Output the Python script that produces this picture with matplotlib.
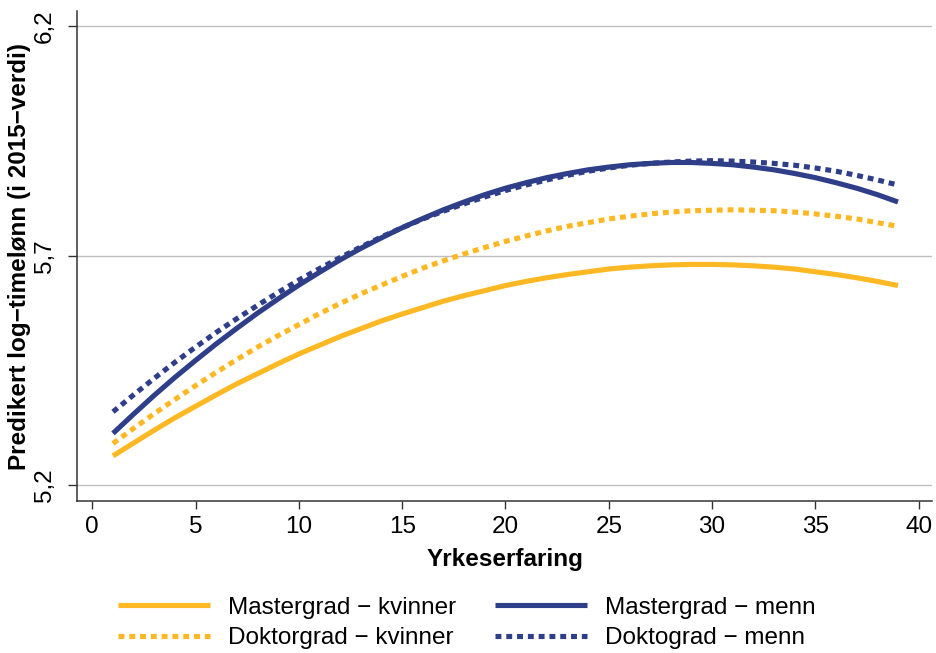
import numpy as np
import matplotlib
matplotlib.use('Agg')
import matplotlib.pyplot as plt

plt.rcParams['font.family'] = ['Liberation Sans', 'DejaVu Sans']

# Yrkeserfaring (years of experience)
erfaring = list(range(1, 40))

# predicted log hourly wage
master_kvinner = [5.264, 5.292, 5.320, 5.347, 5.372, 5.397, 5.421, 5.443, 5.465, 5.486,
                  5.505, 5.524, 5.541, 5.558, 5.573, 5.587, 5.601, 5.613, 5.624, 5.635,
                  5.644, 5.652, 5.659, 5.665, 5.671, 5.675, 5.678, 5.680, 5.681, 5.681,
                  5.680, 5.678, 5.675, 5.671, 5.665, 5.659, 5.652, 5.644, 5.635]
doktor_kvinner = [5.291, 5.324, 5.356, 5.387, 5.417, 5.446, 5.474, 5.501, 5.526, 5.550,
                  5.574, 5.596, 5.617, 5.636, 5.655, 5.673, 5.689, 5.704, 5.718, 5.731,
                  5.743, 5.754, 5.764, 5.772, 5.780, 5.786, 5.791, 5.795, 5.798, 5.799,
                  5.800, 5.799, 5.798, 5.795, 5.791, 5.786, 5.780, 5.772, 5.764]
master_menn = [5.313, 5.355, 5.396, 5.435, 5.472, 5.508, 5.542, 5.575, 5.606, 5.636,
               5.664, 5.691, 5.716, 5.739, 5.761, 5.781, 5.800, 5.817, 5.833, 5.847,
               5.859, 5.870, 5.879, 5.887, 5.893, 5.898, 5.901, 5.903, 5.903, 5.901,
               5.898, 5.893, 5.887, 5.879, 5.870, 5.859, 5.847, 5.833, 5.817]
doktor_menn = [5.360, 5.397, 5.433, 5.468, 5.501, 5.533, 5.563, 5.592, 5.620, 5.647,
               5.672, 5.696, 5.719, 5.741, 5.761, 5.780, 5.797, 5.813, 5.828, 5.842,
               5.854, 5.865, 5.875, 5.884, 5.891, 5.897, 5.901, 5.904, 5.906, 5.907,
               5.906, 5.904, 5.901, 5.897, 5.891, 5.884, 5.875, 5.865, 5.854]

labels = ['Mastergrad \u2212 kvinner', 'Doktorgrad \u2212 kvinner',
          'Mastergrad \u2212 menn', 'Doktograd \u2212 menn']
xticks = [0, 5, 10, 15, 20, 25, 30, 35, 40]
yticks = [5.2, 5.7, 6.2]
ytick_labels = ['5,2', '5,7', '6,2']

orange = '#FDB824'
navy = '#2E3E88'
fs = 17.5

fig = plt.figure(figsize=(9.36, 6.53), dpi=100)
ax = fig.add_axes([0.0826, 0.2328, 0.9134, 0.7502])

for y in yticks:
    ax.axhline(y, color='#BEBEBE', lw=1.0, zorder=0)

lw = 3.7
dots = (1.15, 0.95)
ax.plot(erfaring, master_kvinner, color=orange, lw=lw, solid_capstyle='butt',
        label=labels[0])
ax.plot(erfaring, doktor_kvinner, color=orange, lw=lw, dashes=dots,
        dash_capstyle='butt', label=labels[1])
ax.plot(erfaring, master_menn, color=navy, lw=lw, solid_capstyle='butt',
        label=labels[2])
ax.plot(erfaring, doktor_menn, color=navy, lw=lw, dashes=dots,
        dash_capstyle='butt', label=labels[3])

ax.set_xlim(-0.726, 40.66)
ax.set_ylim(5.1658, 6.2327)
ax.set_xticks(xticks)
ax.set_yticks(yticks)
ax.set_yticklabels(ytick_labels, rotation=90, va='center')

for side in ['top', 'right']:
    ax.spines[side].set_visible(False)
for side in ['left', 'bottom']:
    ax.spines[side].set_color('#333333')
    ax.spines[side].set_linewidth(1.1)

ax.tick_params(axis='x', length=6, width=1, color='#333333', pad=5,
               labelsize=fs)
ax.tick_params(axis='y', length=6.5, width=1, color='#333333', pad=9,
               labelsize=fs)

ax.set_xlabel('Yrkeserfaring', fontsize=fs, fontweight='bold', labelpad=7)
ax.set_ylabel('Predikert log\u2212timel\u00f8nn (i 2015\u2212verdi)', fontsize=fs,
              fontweight='bold', labelpad=2)

fig.legend(loc='upper left', bbox_to_anchor=(0.126, 0.086), ncol=2,
           frameon=False, fontsize=fs, handlelength=3.78, handletextpad=0.74,
           columnspacing=1.6, labelspacing=0.35, borderpad=0,
           borderaxespad=0)

fig.savefig('out.png', dpi=100)
